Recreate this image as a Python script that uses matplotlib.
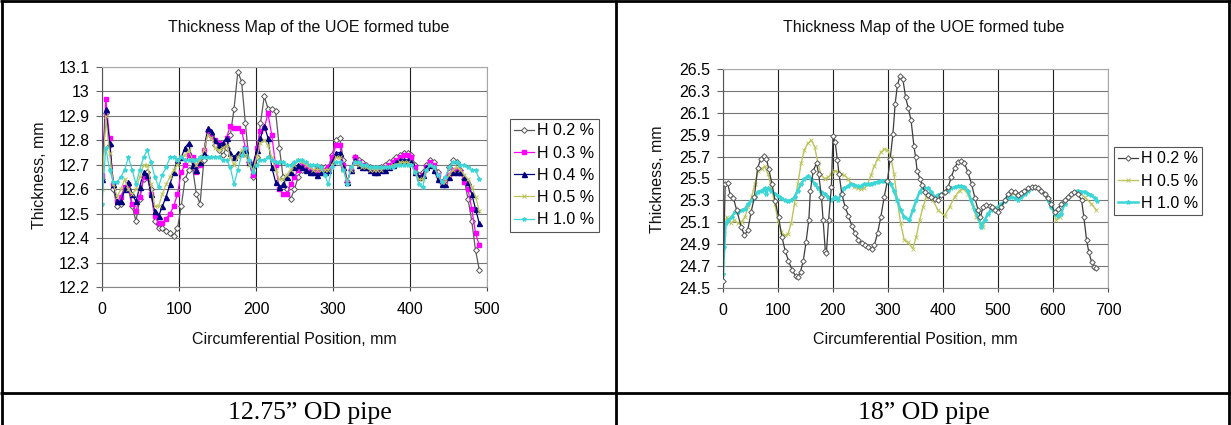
import numpy as np
import matplotlib
matplotlib.use('Agg')
import matplotlib.pyplot as plt
from matplotlib.lines import Line2D

plt.rcParams['font.family'] = ['Liberation Sans', 'DejaVu Sans']

# ---------------- data: 12.75" OD pipe ----------------
pos_small = [round(4.9 * i, 1) for i in range(101)]

h02_small = [12.64, 12.91, 12.78, 12.60, 12.53, 12.54, 12.60, 12.60, 12.53, 12.47,
             12.56, 12.64, 12.67, 12.60, 12.47, 12.44, 12.44, 12.43, 12.42, 12.41,
             12.44, 12.53, 12.64, 12.68, 12.69, 12.58, 12.54, 12.72, 12.84, 12.82,
             12.78, 12.76, 12.74, 12.77, 12.82, 12.93, 13.08, 13.04, 12.87, 12.71,
             12.65, 12.73, 12.87, 12.98, 12.93, 12.93, 12.92, 12.77, 12.65, 12.60,
             12.56, 12.60, 12.65, 12.68, 12.70, 12.69, 12.69, 12.68, 12.69, 12.69,
             12.69, 12.74, 12.80, 12.81, 12.72, 12.63, 12.68, 12.73, 12.72, 12.71,
             12.70, 12.69, 12.68, 12.68, 12.69, 12.70, 12.71, 12.72, 12.73, 12.74,
             12.75, 12.75, 12.74, 12.70, 12.66, 12.67, 12.70, 12.72, 12.71, 12.67,
             12.63, 12.64, 12.69, 12.72, 12.71, 12.68, 12.64, 12.56, 12.47, 12.35,
             12.27]

h03_small = [12.66, 12.97, 12.81, 12.62, 12.55, 12.57, 12.61, 12.62, 12.54, 12.51,
             12.57, 12.65, 12.65, 12.58, 12.49, 12.46, 12.46, 12.48, 12.50, 12.53,
             12.58, 12.67, 12.70, 12.74, 12.73, 12.67, 12.70, 12.76, 12.84, 12.82,
             12.80, 12.79, 12.78, 12.81, 12.86, 12.85, 12.85, 12.84, 12.77, 12.71,
             12.66, 12.77, 12.84, 12.85, 12.91, 12.82, 12.70, 12.60, 12.58, 12.58,
             12.62, 12.65, 12.68, 12.70, 12.69, 12.68, 12.67, 12.67, 12.68, 12.68,
             12.69, 12.73, 12.78, 12.78, 12.70, 12.63, 12.68, 12.73, 12.71, 12.70,
             12.69, 12.68, 12.67, 12.67, 12.68, 12.69, 12.70, 12.71, 12.72, 12.73,
             12.74, 12.74, 12.73, 12.69, 12.65, 12.66, 12.69, 12.71, 12.70, 12.66,
             12.63, 12.63, 12.66, 12.68, 12.68, 12.67, 12.63, 12.60, 12.52, 12.42,
             12.37]

h04_small = [12.64, 12.93, 12.79, 12.62, 12.55, 12.55, 12.60, 12.63, 12.58, 12.55,
             12.61, 12.67, 12.66, 12.58, 12.51, 12.49, 12.53, 12.57, 12.62, 12.67,
             12.72, 12.73, 12.77, 12.79, 12.70, 12.68, 12.71, 12.75, 12.85, 12.84,
             12.80, 12.78, 12.79, 12.81, 12.75, 12.73, 12.75, 12.75, 12.76, 12.71,
             12.70, 12.76, 12.81, 12.86, 12.81, 12.69, 12.63, 12.61, 12.62, 12.65,
             12.67, 12.69, 12.70, 12.69, 12.68, 12.67, 12.67, 12.66, 12.67, 12.67,
             12.68, 12.71, 12.75, 12.75, 12.69, 12.63, 12.68, 12.72, 12.70, 12.69,
             12.69, 12.68, 12.67, 12.67, 12.68, 12.68, 12.69, 12.70, 12.71, 12.72,
             12.72, 12.72, 12.71, 12.67, 12.65, 12.66, 12.69, 12.70, 12.68, 12.64,
             12.62, 12.62, 12.65, 12.67, 12.67, 12.67, 12.65, 12.63, 12.58, 12.52,
             12.46]

h05_small = [12.60, 12.90, 12.75, 12.62, 12.57, 12.60, 12.64, 12.60, 12.58, 12.60,
             12.65, 12.70, 12.70, 12.62, 12.53, 12.53, 12.58, 12.62, 12.65, 12.68,
             12.70, 12.73, 12.74, 12.76, 12.72, 12.70, 12.72, 12.76, 12.82, 12.81,
             12.77, 12.76, 12.77, 12.78, 12.73, 12.70, 12.73, 12.76, 12.74, 12.70,
             12.68, 12.73, 12.79, 12.80, 12.78, 12.73, 12.68, 12.64, 12.64, 12.66,
             12.68, 12.70, 12.72, 12.71, 12.70, 12.69, 12.68, 12.68, 12.68, 12.68,
             12.68, 12.70, 12.73, 12.73, 12.68, 12.63, 12.68, 12.71, 12.70, 12.69,
             12.69, 12.68, 12.68, 12.68, 12.68, 12.69, 12.69, 12.70, 12.70, 12.71,
             12.71, 12.71, 12.70, 12.67, 12.64, 12.64, 12.68, 12.70, 12.69, 12.66,
             12.63, 12.63, 12.66, 12.68, 12.69, 12.68, 12.66, 12.64, 12.61, 12.57,
             12.51]

h10_small = [12.54, 12.77, 12.68, 12.63, 12.63, 12.65, 12.68, 12.73, 12.68, 12.62,
             12.68, 12.73, 12.76, 12.71, 12.65, 12.61, 12.66, 12.69, 12.73, 12.73,
             12.72, 12.73, 12.72, 12.72, 12.72, 12.72, 12.73, 12.73, 12.73, 12.73,
             12.73, 12.73, 12.72, 12.72, 12.69, 12.62, 12.68, 12.74, 12.77, 12.72,
             12.67, 12.70, 12.72, 12.72, 12.73, 12.72, 12.71, 12.71, 12.71, 12.70,
             12.70, 12.71, 12.72, 12.72, 12.71, 12.70, 12.70, 12.70, 12.69, 12.66,
             12.62, 12.69, 12.71, 12.71, 12.68, 12.62, 12.69, 12.71, 12.71, 12.70,
             12.70, 12.69, 12.69, 12.69, 12.69, 12.69, 12.69, 12.69, 12.70, 12.70,
             12.70, 12.70, 12.70, 12.67, 12.62, 12.61, 12.68, 12.70, 12.69, 12.66,
             12.63, 12.65, 12.69, 12.71, 12.71, 12.70, 12.70, 12.69, 12.68, 12.68,
             12.64]

# ---------------- data: 18" OD pipe ----------------
pos_h02_big = [0, 4, 8.5, 13, 19, 25, 33, 39, 45, 51, 57, 63, 69, 75, 79, 83, 89, 95, 101, 107,
               113, 119, 126, 132, 136, 141, 146, 151, 156, 159, 164, 170, 174, 179, 182, 186, 188, 192, 197, 200,
               204, 208, 211, 216, 222, 228, 234, 240, 246, 252, 258, 264, 270, 275, 281, 287, 293, 299, 304, 309,
               313, 317, 322, 327, 332, 337, 342, 347, 350, 353, 358, 362, 367, 373, 379, 385, 391, 397, 403, 409,
               415, 421, 427, 433, 439, 445, 452, 458, 464, 468, 473, 479, 485, 489, 494, 500, 506, 512, 518, 524,
               530, 536, 542, 548, 555, 561, 567, 573, 579, 585, 591, 597, 603, 609, 615, 621, 627, 633, 639, 645,
               652, 656, 661, 665, 670, 675, 679]
h02_big = [24.56, 25.45, 25.46, 25.35, 25.32, 25.21, 25.06, 24.98, 25.03, 25.19, 25.33, 25.60, 25.68, 25.71, 25.68, 25.59, 25.45, 25.29, 25.15, 24.97,
           24.84, 24.75, 24.66, 24.61, 24.60, 24.65, 24.75, 24.92, 25.12, 25.39, 25.57, 25.64, 25.54, 25.33, 25.12, 24.84, 24.82, 25.12, 25.42, 25.89,
           25.83, 25.67, 25.54, 25.36, 25.24, 25.16, 25.07, 25.00, 24.94, 24.91, 24.89, 24.87, 24.86, 24.89, 25.00, 25.15, 25.33, 25.48, 25.68, 25.91,
           26.18, 26.35, 26.44, 26.41, 26.24, 26.14, 26.03, 25.80, 25.70, 25.57, 25.50, 25.44, 25.38, 25.35, 25.33, 25.31, 25.30, 25.35, 25.38, 25.42,
           25.51, 25.60, 25.65, 25.66, 25.64, 25.56, 25.45, 25.32, 25.21, 25.15, 25.24, 25.26, 25.25, 25.24, 25.21, 25.19, 25.24, 25.30, 25.36, 25.39,
           25.38, 25.35, 25.37, 25.39, 25.41, 25.42, 25.42, 25.41, 25.39, 25.36, 25.32, 25.27, 25.19, 25.22, 25.27, 25.30, 25.33, 25.36, 25.38, 25.36,
           25.30, 25.15, 24.94, 24.83, 24.74, 24.69, 24.68]

pos_h05_big = [0, 2.4, 6.6, 9.7, 14.5, 20.5, 27.8, 33.8, 39.8, 45.9, 51.9, 57.9, 64, 70, 76, 82, 88, 94, 100, 106,
               112, 118, 124, 130, 136, 142, 148, 154, 160.5, 166.6, 172.6, 178.6, 184.7, 190.7, 196.7, 202.8, 208.8, 214.8, 220.9, 226.9,
               233, 239, 245, 251, 257, 263, 269, 275, 281, 287, 293, 299, 305, 311, 317, 323, 329.5, 336, 345, 351.5,
               357.6, 363.6, 369.7, 375.8, 381.8, 391, 403, 412, 421, 430, 436, 445, 454.5, 460.6, 466.7, 472.7, 481.8, 494, 506, 512,
               524, 536, 548.5, 560.6, 572.7, 585, 597, 606, 612, 621, 633, 645, 657.6, 669.7, 679]
h05_big = [24.72, 24.99, 25.15, 25.13, 25.09, 25.12, 25.09, 25.10, 25.15, 25.24, 25.33, 25.45, 25.57, 25.59, 25.61, 25.54, 25.42, 25.27, 25.12, 25.01,
           24.98, 24.99, 25.09, 25.27, 25.45, 25.64, 25.76, 25.82, 25.85, 25.79, 25.64, 25.53, 25.50, 25.51, 25.54, 25.57, 25.56, 25.54, 25.53, 25.50,
           25.45, 25.42, 25.41, 25.40, 25.41, 25.45, 25.53, 25.61, 25.68, 25.74, 25.77, 25.76, 25.70, 25.54, 25.30, 25.09, 24.94, 24.92, 24.86, 24.97,
           25.12, 25.24, 25.33, 25.36, 25.30, 25.21, 25.16, 25.24, 25.33, 25.39, 25.41, 25.36, 25.24, 25.15, 25.09, 25.06, 25.18, 25.24, 25.24, 25.30,
           25.35, 25.36, 25.39, 25.41, 25.42, 25.36, 25.27, 25.12, 25.15, 25.27, 25.35, 25.38, 25.33, 25.27, 25.21]

pos_h10_big = [0, 2.4, 4.8, 9.7, 15.7, 21.7, 27.8, 33.8, 39.8, 45.9, 51.9, 57.9, 64, 70, 76, 79, 82, 88, 94, 100,
               106, 112, 118, 124, 130, 136, 142, 148, 154.5, 160.5, 166.6, 172.6, 178.6, 184.7, 190.7, 196.7, 202.8, 208.8, 214.8, 220.9,
               226.9, 233, 239, 245, 251, 257, 263, 269, 275, 281, 287, 293, 299, 305, 311, 317, 323, 329.5, 339, 345,
               351.5, 357.6, 363.6, 372.7, 378.8, 385, 391, 397, 403, 409, 415, 421, 427, 433, 439, 445, 451.5, 457.6, 463.6, 469.7,
               475.8, 481.8, 488, 494, 500, 506, 512, 518, 524, 530, 536, 542, 548.5, 554.5, 560.6, 566.7, 572.7, 578.8, 585, 591,
               597, 603, 609, 615, 621, 627, 633, 639, 645, 651.5, 657.6, 663.6, 669.7, 675.8, 680.6]
h10_big = [24.63, 24.87, 25.09, 25.12, 25.15, 25.19, 25.19, 25.21, 25.22, 25.27, 25.30, 25.33, 25.38, 25.39, 25.41, 25.36, 25.41, 25.39, 25.36, 25.34,
           25.32, 25.30, 25.29, 25.30, 25.33, 25.39, 25.45, 25.50, 25.52, 25.50, 25.45, 25.41, 25.38, 25.36, 25.33, 25.30, 25.33, 25.30, 25.36, 25.41,
           25.43, 25.45, 25.44, 25.43, 25.43, 25.45, 25.45, 25.45, 25.46, 25.47, 25.48, 25.48, 25.48, 25.45, 25.39, 25.30, 25.21, 25.15, 25.12, 25.21,
           25.30, 25.38, 25.42, 25.41, 25.38, 25.33, 25.35, 25.36, 25.38, 25.39, 25.41, 25.42, 25.43, 25.43, 25.42, 25.39, 25.30, 25.21, 25.15, 25.06,
           25.12, 25.18, 25.21, 25.22, 25.24, 25.27, 25.29, 25.32, 25.33, 25.32, 25.30, 25.33, 25.36, 25.39, 25.41, 25.42, 25.41, 25.39, 25.36, 25.30,
           25.24, 25.18, 25.16, 25.18, 25.27, 25.33, 25.36, 25.38, 25.39, 25.38, 25.38, 25.36, 25.35, 25.32, 25.29]

legend_small = ['H 0.2 %', 'H 0.3 %', 'H 0.4 %', 'H 0.5 %', 'H 1.0 %']
legend_big = ['H 0.2 %', 'H 0.5 %', 'H 1.0 %']
title_text = 'Thickness Map of the UOE formed tube'
xlabel_text = 'Circumferential Position, mm'
ylabel_text = 'Thickness, mm'
captions = ['12.75\u201d OD pipe', '18\u201d OD pipe']

# ---------------- figure ----------------
W, H = 1231, 425
fig = plt.figure(figsize=(W / 100, H / 100), dpi=100)
fig.patch.set_facecolor('white')

FS = 11.5
GREY = '#5a5a5a'
MAG = '#ff00ff'
NAVY = '#000080'
YEL = '#bcc45a'
CYAN = '#3cd6d6'


def fx(px):
    return px / W


def fy(py):
    return 1 - py / H


def style(ax, xmax, ymin, ymax, ystep, fmt):
    ax.set_xlim(0, xmax)
    ax.set_ylim(ymin, ymax)
    ax.set_xticks(np.arange(0, xmax + 1, 100))
    n = int(round((ymax - ymin) / ystep))
    yt = [round(ymin + k * ystep, 2) for k in range(n + 1)]
    ax.set_yticks(yt)
    ax.set_yticklabels([fmt(v) for v in yt])
    ax.xaxis.grid(True, color='#1e1e1e', lw=0.8)
    ax.yaxis.grid(True, color='#777777', lw=0.8)
    ax.set_axisbelow(True)
    for s in ax.spines.values():
        s.set_color('#a8a8a8')
        s.set_linewidth(0.8)
    ax.spines['left'].set_color('#555555')
    ax.spines['bottom'].set_color('#888888')
    ax.tick_params(axis='x', direction='out', length=3, width=0.8, color='#444444',
                   labelsize=FS, pad=8)
    ax.tick_params(axis='y', direction='out', length=4, width=0.8, color='#666666',
                   labelsize=FS, pad=5)
    ax.set_facecolor('white')


axL = fig.add_axes([fx(102), fy(287), fx(385), 220 / H])
axR = fig.add_axes([fx(723), fy(288), fx(385), 219 / H])

style(axL, 500, 12.2, 13.1, 0.1, lambda v: f'{v:g}')
style(axR, 700, 24.5, 26.5, 0.2, lambda v: f'{v:.1f}')

# left chart series
l1, = axL.plot(pos_small, h02_small, color=GREY, lw=0.9, marker='D', ms=3.0,
               mfc='white', mec='#555555', mew=0.7)
l2, = axL.plot(pos_small, h03_small, color=MAG, lw=0.9, marker='s', ms=3.2,
               mfc=MAG, mec=MAG)
l3, = axL.plot(pos_small, h04_small, color=NAVY, lw=0.9, marker='^', ms=3.6,
               mfc=NAVY, mec=NAVY)
l4, = axL.plot(pos_small, h05_small, color=YEL, lw=0.9, marker='x', ms=2.4,
               mec=YEL, mew=0.7)
l5, = axL.plot(pos_small, h10_small, color=CYAN, lw=0.9, marker='*', ms=3.0,
               mfc=CYAN, mec=CYAN)

# right chart series
r1, = axR.plot(pos_h02_big, h02_big, color='#3c3c3c', lw=0.9, marker='D', ms=2.8,
               mfc='white', mec='#555555', mew=0.7)
r2, = axR.plot(pos_h05_big, h05_big, color=YEL, lw=1.0, marker='x', ms=2.2,
               mec=YEL, mew=0.6)
r3, = axR.plot(pos_h10_big, h10_big, color=CYAN, lw=1.8, marker='*', ms=3.0,
               mfc=CYAN, mec=CYAN)
r1.set_zorder(3)

# legends
legkw = dict(loc='upper left', frameon=True, fancybox=False, edgecolor='#555555',
             framealpha=1, fontsize=FS, handlelength=1.25, handletextpad=0.15,
             labelspacing=0.45, borderpad=0.28, borderaxespad=0)
legL = fig.legend([l1, l2, l3, l4, l5], legend_small,
                  bbox_to_anchor=(fx(510), fy(119)), **legkw)
legR = fig.legend([r1, r2, r3], legend_big,
                  bbox_to_anchor=(fx(1114), fy(147)), **legkw)
for lg in (legL, legR):
    lg.get_frame().set_linewidth(0.8)

# titles and axis labels
for cx, xlc, ylx, ylc in [(309, 294, 40, 175), (924, 915, 657, 179)]:
    fig.text(fx(cx), fy(32.3), title_text, ha='center', va='baseline', fontsize=FS,
             color='#111111')
    fig.text(fx(xlc), fy(344), xlabel_text, ha='center', va='baseline', fontsize=FS,
             color='#111111')
    fig.text(fx(ylx), fy(ylc), ylabel_text, ha='center', va='center', rotation=90,
             fontsize=FS, color='#111111')

# captions
fig.text(fx(310), fy(419), captions[0], ha='center', va='baseline',
         fontsize=18.5, family=['Liberation Serif', 'DejaVu Serif'], color='black')
fig.text(fx(924), fy(419), captions[1], ha='center', va='baseline',
         fontsize=18.5, family=['Liberation Serif', 'DejaVu Serif'], color='black')

# table borders
lw_tab = 2.0
for seg in [((0, 1), (fy(1.3), fy(1.3))),
            ((fx(1.5), fx(1.5)), (0, 1)),
            ((fx(1228.5), fx(1228.5)), (0, 1)),
            ((fx(616.3), fx(616.3)), (0, 1)),
            ((0, 1), (fy(392.5), fy(392.5)))]:
    fig.add_artist(Line2D(seg[0], seg[1], transform=fig.transFigure, color='black',
                          lw=lw_tab, solid_capstyle='butt'))

fig.savefig('out.png', dpi=100, facecolor='white')
